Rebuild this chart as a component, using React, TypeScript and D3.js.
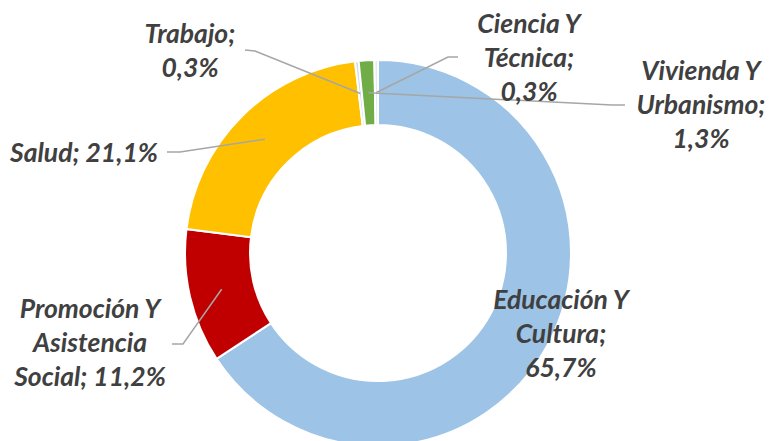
import React from "react";
import * as d3 from "d3";

const categories = [
  "Educación Y Cultura",
  "Promoción Y Asistencia Social",
  "Salud",
  "Trabajo",
  "Vivienda Y Urbanismo",
  "Ciencia Y Técnica",
];
const values = [65.7, 11.2, 21.1, 0.3, 1.3, 0.3];
const valueLabels = ["65,7%", "11,2%", "21,1%", "0,3%", "1,3%", "0,3%"];
const colors = ["#9DC3E6", "#C00000", "#FFC000", "#C9DDF0", "#70AD47", "#DEEBF7"];

// label lines (text) per category
const labelLines = [
  ["Educación Y", "Cultura;", "65,7%"],
  ["Promoción Y", "Asistencia", "Social; 11,2%"],
  ["Salud; 21,1%"],
  ["Trabajo;", "0,3%"],
  ["Vivienda Y", "Urbanismo;", "1,3%"],
  ["Ciencia Y", "Técnica;", "0,3%"],
];
// label anchor (center x, first baseline y)
const labelPos: [number, number][] = [
  [561, 309],
  [90, 318],
  [84, 162],
  [190, 43],
  [701, 80],
  [529, 33],
];
// leader line start points (null = no leader) and elbow
const leaderStart: ([number, number] | null)[] = [
  null,
  [172, 344],
  [167, 152],
  [245, 50],
  [625, 105],
  [458, 57],
];
const leaderElbow: ([number, number] | null)[] = [
  null,
  [183, 344],
  [180, 152],
  [255, 51],
  [612, 105],
  [448, 57],
];

const W = 770;
const H = 441;
const cx = 378;
const cy = 253;
const outerR = 193;
const innerR = 128;
const lineH = 34;

export default function App() {
  const pie = d3
    .pie<number>()
    .sort(null)
    .value((d) => d);
  const arcs = pie(values);
  const arc = d3
    .arc<d3.PieArcDatum<number>>()
    .innerRadius(innerR)
    .outerRadius(outerR);

  return (
    <svg
      width={W}
      height={H}
      style={{ position: "absolute", left: 0, top: 0, background: "#fff" }}
    >
      <g transform={`translate(${cx},${cy})`}>
        {arcs.map((a, i) => (
          <path
            key={categories[i]}
            d={arc(a) || ""}
            fill={colors[i]}
            stroke="#fff"
            strokeWidth={2}
          />
        ))}
      </g>
      {arcs.map((a, i) => {
        const s = leaderStart[i];
        const e = leaderElbow[i];
        if (!s || !e) return null;
        const c = arc.centroid(a);
        const end: [number, number] = [c[0] + cx, c[1] + cy];
        const line = d3.line()([s, e, end]) || "";
        return (
          <path
            key={"l" + i}
            d={line}
            fill="none"
            stroke="#A6A6A6"
            strokeWidth={1.5}
          />
        );
      })}
      {labelLines.map((lines, i) => (
        <text
          key={"t" + i}
          textAnchor="middle"
          fontFamily="Lato, 'Open Sans', sans-serif"
          fontWeight="bold"
          fontStyle="italic"
          fontSize={26.5}
          fill="#404040"
        >
          {lines.map((ln, j) => (
            <tspan key={j} x={labelPos[i][0]} y={labelPos[i][1] + j * lineH}>
              {ln}
            </tspan>
          ))}
        </text>
      ))}
    </svg>
  );
}
